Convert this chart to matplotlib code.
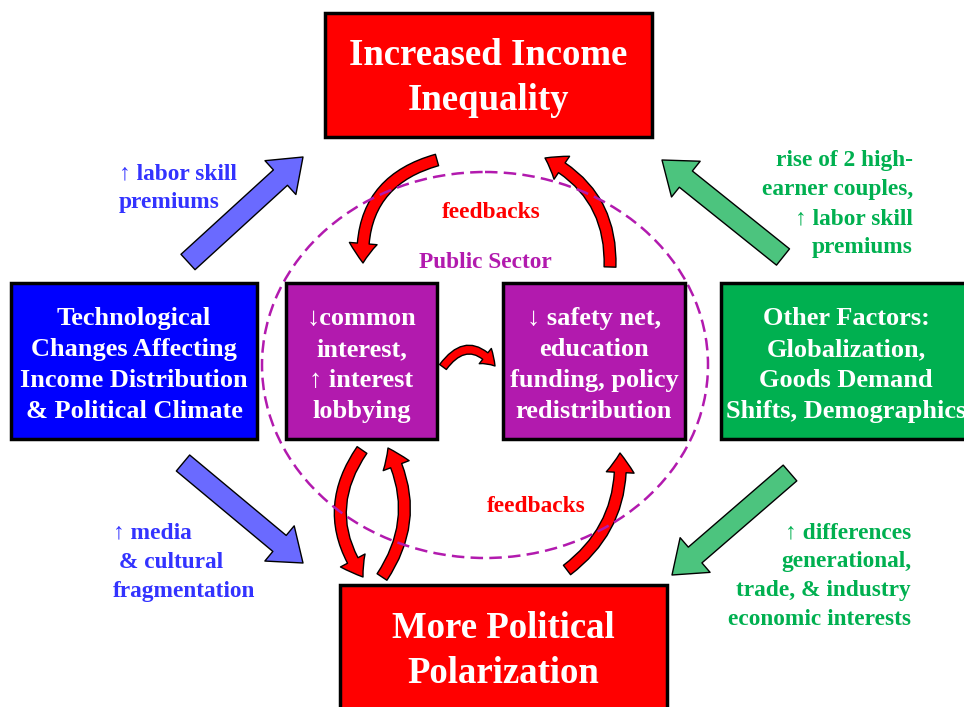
import matplotlib
matplotlib.use("Agg")
import matplotlib.pyplot as plt
from matplotlib.patches import Rectangle, Ellipse, FancyArrowPatch

plt.rcParams['font.family'] = ['Liberation Serif', 'DejaVu Serif']
plt.rcParams['font.weight'] = 'bold'

# Box labels
top_label = "Increased Income\nInequality"
bottom_label = "More Political\nPolarization"
tech_label = "Technological\nChanges Affecting\nIncome Distribution\n& Political Climate"
other_label = "Other Factors:\nGlobalization,\nGoods Demand\nShifts, Demographics"
lobby_label = "\u2193common\ninterest,\n\u2191 interest\nlobbying"
safety_label = "\u2193 safety net,\neducation\nfunding, policy\nredistribution"

# Arrow labels
tech_up_label = "\u2191 labor skill\npremiums"
tech_down_label = "\u2191 media\n & cultural\nfragmentation"
other_up_label = "rise of 2 high-\nearner couples,\n\u2191 labor skill\npremiums"
other_down_label = "\u2191 differences\ngenerational,\ntrade, & industry\neconomic interests"
feedback_label = "feedbacks"
sector_label = "Public Sector"

RED = "#FF0000"
BLUE = "#0000FF"
GREEN = "#00B050"
PURPLE = "#B21AAE"
BLUE_TXT = "#3333FF"
BLUE_ARROW = "#6A6AFF"
GREEN_ARROW = "#4CC47E"

fig = plt.figure(figsize=(9.64, 7.07), dpi=100)
ax = fig.add_axes([0, 0, 1, 1])
ax.set_xlim(0, 964)
ax.set_ylim(707, 0)
ax.axis("off")


def box(x0, y0, x1, y1, color, text, size, tx=None, ty=None, ls=1.44):
    ax.add_patch(Rectangle((x0, y0), x1 - x0, y1 - y0, facecolor=color,
                           edgecolor="black", lw=2.5, zorder=4))
    if tx is None:
        tx = (x0 + x1) / 2
    if ty is None:
        ty = (y0 + y1) / 2 + 4
    ax.text(tx, ty, text, color="white", fontsize=size,
            ha="center", va="center", zorder=5, linespacing=ls)


def curved(p0, p1, rad, tw=8.5, hw=20, hl=14):
    ax.add_patch(FancyArrowPatch(p0, p1, connectionstyle=f"arc3,rad={rad}",
                                 arrowstyle=f"simple,head_length={hl},head_width={hw},tail_width={tw}",
                                 facecolor=RED, edgecolor="black", lw=1,
                                 shrinkA=0, shrinkB=0, zorder=2))


def block(p0, p1, color):
    ax.add_patch(FancyArrowPatch(p0, p1,
                                 arrowstyle="simple,head_length=22,head_width=33,tail_width=15",
                                 facecolor=color, edgecolor="black", lw=1,
                                 shrinkA=0, shrinkB=0, zorder=2))


# dashed public sector circle
ax.add_patch(Ellipse((485, 365), 446, 386, fill=False, edgecolor=PURPLE,
                     lw=1.8, ls=(0, (5, 2.5)), zorder=3))

# boxes
box(325, 13, 652, 137, RED, top_label, 26.5, ty=78, ls=1.35)
box(340, 585, 667, 712, RED, bottom_label, 26.5, ty=651, ls=1.35)
box(11, 283, 257, 439, BLUE, tech_label, 19)
box(721, 283, 975, 439, GREEN, other_label, 19, tx=846)
box(286, 283, 437, 439, PURPLE, lobby_label, 19)
box(503, 283, 685, 439, PURPLE, safety_label, 19)

# feedback arrows
curved((437, 160), (363, 263), 0.4)
curved((610, 267), (545, 158), 0.32)
curved((443, 367), (495, 366), -0.65, tw=6, hw=14, hl=10)
curved((362, 450), (363, 577), 0.35)
curved((382, 577), (388, 448), 0.3)
curved((567, 570), (620, 453), 0.27)

# block arrows
block((188, 262), (303, 157), BLUE_ARROW)
block((183, 463), (303, 563), BLUE_ARROW)
block((783, 257), (662, 160), GREEN_ARROW)
block((790, 473), (672, 575), GREEN_ARROW)

# labels
lab = dict(fontsize=16.8, va="center", linespacing=1.5)
ax.text(119, 188, tech_up_label, color=BLUE_TXT, ha="left", **lab)
ax.text(113, 562, tech_down_label, color=BLUE_TXT, ha="left", **lab)
ax.text(913, 204, other_up_label, color=GREEN, ha="right", **lab)
ax.text(911, 576, other_down_label, color=GREEN, ha="right", **lab)
ax.text(491, 212, feedback_label, color=RED, ha="center", **lab)
ax.text(536, 507, feedback_label, color=RED, ha="center", **lab)
ax.text(485, 262, sector_label, color=PURPLE, ha="center", **lab)

fig.savefig("out.png", dpi=100, facecolor="white")
